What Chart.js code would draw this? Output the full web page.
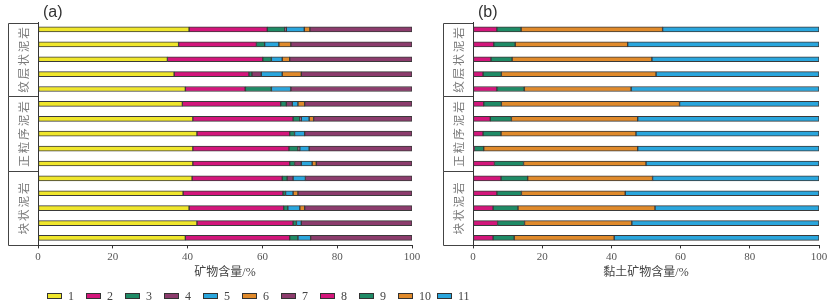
<!DOCTYPE html>
<html><head><meta charset="utf-8">
<script src="https://cdn.jsdelivr.net/npm/chart.js@4/dist/chart.umd.min.js"></script>
<style>
html,body{margin:0;padding:0;background:#fff;width:839px;height:308px;overflow:hidden;}
#ca{position:absolute;left:0;top:0;}
#cb{position:absolute;left:425px;top:0;}
#legend{position:absolute;top:286px;left:0;}
</style></head><body>
<canvas id="ca" width="425" height="285"></canvas>
<canvas id="cb" width="414" height="285"></canvas>
<canvas id="legend" width="839" height="22"></canvas>
<script>
// sample rows (top to bottom)
const samples = ['1','2','3','4','5','6','7','8','9','10','11','12','13','14','15'];
const groups = ['纹层状泥岩','正粒序泥岩','块状泥岩'];
const groupSize = [5,5,5];
const seriesNames = ['1','2','3','4','5','6','7','8','9','10','11'];
const colors = ['#efe62c','#d3167b','#1f8b66','#8c3c6d','#2aa6dd','#e08a2b','#8c3c6d','#d3167b','#1f8b66','#e08a2b','#2aa6dd'];

// (a) mineral content, %
const s1 = [40.4,37.6,34.6,36.4,39.4,38.6,41.4,42.5,41.4,41.4,41.2,38.8,40.4,42.5,39.4];
const s2 = [20.9,20.8,25.5,20.0,16.0,26.3,26.8,24.8,25.7,25.9,24.1,26.7,25.3,25.7,27.9];
const s3 = [4.7,2.2,2.3,0.8,7.0,1.5,1.8,1.3,2.4,1.3,1.3,0.7,1.1,0.9,2.2];
const s4 = [0.4,0,0,2.5,0,1.6,0.4,0,0.5,1.8,1.6,0,0,0,0];
const s5 = [4.8,3.8,2.9,5.6,5.2,1.5,2.1,2.7,2.5,2.9,3.3,2.0,3.2,1.3,3.4];
const s6 = [1.5,3.2,2.0,5.1,0,1.8,1.2,0,0,1.1,0,1.3,1.3,0,0];
const s7 = [27.3,32.4,32.7,29.6,32.4,28.7,26.3,28.7,27.5,25.6,28.5,30.5,28.7,29.6,27.1];
// (b) clay mineral content, %
const s8 = [6.9,6.0,5.2,2.9,6.9,3.1,5.0,2.9,0.4,6.2,8.1,6.9,5.8,7.1,5.8];
const s9 = [7.0,6.2,6.1,5.3,7.9,5.1,6.1,5.2,2.7,8.4,7.7,7.1,7.2,7.8,6.1];
const s10 = [40.9,32.5,40.4,44.7,30.9,51.5,36.5,39.0,44.5,35.4,36.1,30.0,39.6,31.0,28.9];
const s11 = [45.2,55.3,48.3,47.1,54.3,40.3,52.4,52.9,52.4,50.0,48.1,56.0,47.4,54.1,59.2];

const xTicks = [0,20,40,60,80,100];
const titleA = '(a)', titleB = '(b)';
const xTitleA = '矿物含量/%', xTitleB = '黏土矿物含量/%';

const serif = '"Liberation Serif","Noto Sans CJK SC",serif';

function groupPlugin(label){
  return {
    id:'grp',
    afterDraw(chart){
      const ctx = chart.ctx, ca = chart.chartArea, ys = chart.scales.y;
      const band = ys.getPixelForValue(1) - ys.getPixelForValue(0);
      const x0 = ca.left - 30, x1 = ca.left;
      ctx.save();
      ctx.strokeStyle = '#444'; ctx.lineWidth = 1;
      let start = 0;
      groups.forEach((g,i)=>{
        const yT = Math.round(ys.getPixelForValue(start) - band/2 + (i===0?1.5:0)) + 0.5;
        const yB = Math.round(ys.getPixelForValue(start+groupSize[i]-1) + band/2) + 0.5;
        ctx.beginPath();
        ctx.moveTo(x1, yT); ctx.lineTo(x0+0.5, yT); ctx.lineTo(x0+0.5, yB); ctx.lineTo(x1, yB);
        ctx.stroke();
        ctx.save();
        ctx.translate((x0+x1)/2 + 1, (yT+yB)/2);
        ctx.rotate(-Math.PI/2);
        ctx.fillStyle = '#7a7a7a';
        ctx.font = '11.5px "Noto Sans CJK SC"';
        ctx.textAlign = 'center'; ctx.textBaseline = 'middle';
        if (ctx.letterSpacing !== undefined) ctx.letterSpacing = '2px';
        ctx.fillText(g, 1, 0);
        ctx.restore();
        start += groupSize[i];
      });
      ctx.fillStyle = '#333';
      ctx.font = '16px "Liberation Sans",Arial,sans-serif';
      ctx.textAlign = 'left'; ctx.textBaseline = 'middle';
      ctx.fillText(label, ca.left + 5, 13);
      ctx.restore();
    }
  };
}

function makeChart(id, series, idxs, padL, padR, xTitle, label){
  const datasets = series.map((d,k)=>({
    label: seriesNames[idxs[k]],
    data: d,
    backgroundColor: colors[idxs[k]],
    borderColor: '#3a3a3a',
    borderWidth: 1,
    borderSkipped: false,
    barThickness: 5
  }));
  return new Chart(document.getElementById(id), {
    type:'bar',
    data:{labels:samples, datasets},
    options:{
      indexAxis:'y',
      responsive:false,
      animation:false,
      layout:{padding:{left:padL,right:padR,top:22,bottom:5}},
      plugins:{legend:{display:false},tooltip:{enabled:false}},
      scales:{
        x:{stacked:true,min:0,max:100,
           afterBuildTicks:s=>{s.ticks = xTicks.map(v=>({value:v}));},
           grid:{display:true,drawOnChartArea:false,drawTicks:true,tickLength:3,color:'#333'},
           border:{display:true,color:'#333',width:1},
           ticks:{color:'#555',font:{family:serif,size:11},padding:2,maxRotation:0},
           title:{display:true,text:xTitle,color:'#444',font:{family:serif,size:12},padding:{top:0,bottom:0}}},
        y:{stacked:true,
           grid:{display:false},
           border:{display:true,color:'#333',width:1},
           ticks:{display:false},
           afterFit:s=>{s.width=0;}}
      }
    },
    plugins:[groupPlugin(label)]
  });
}

makeChart('ca',[s1,s2,s3,s4,s5,s6,s7],[0,1,2,3,4,5,6],38,13,xTitleA,titleA);
makeChart('cb',[s8,s9,s10,s11],[7,8,9,10],48,20,xTitleB,titleB);

// legend
const lc = document.getElementById('legend').getContext('2d');
lc.font = '12px "Liberation Serif",serif';
lc.textBaseline = 'middle';
seriesNames.forEach((n,i)=>{
  const x = 47 + i*39, y = 10;
  lc.fillStyle = colors[i];
  lc.fillRect(x, y-2.5, 15, 5);
  lc.strokeStyle = '#333'; lc.lineWidth = 1;
  lc.strokeRect(x+0.5, y-2.5, 14, 5);
  lc.fillStyle = '#444';
  lc.fillText(n, x + 21, y + 0.5);
});
</script>
</body></html>
